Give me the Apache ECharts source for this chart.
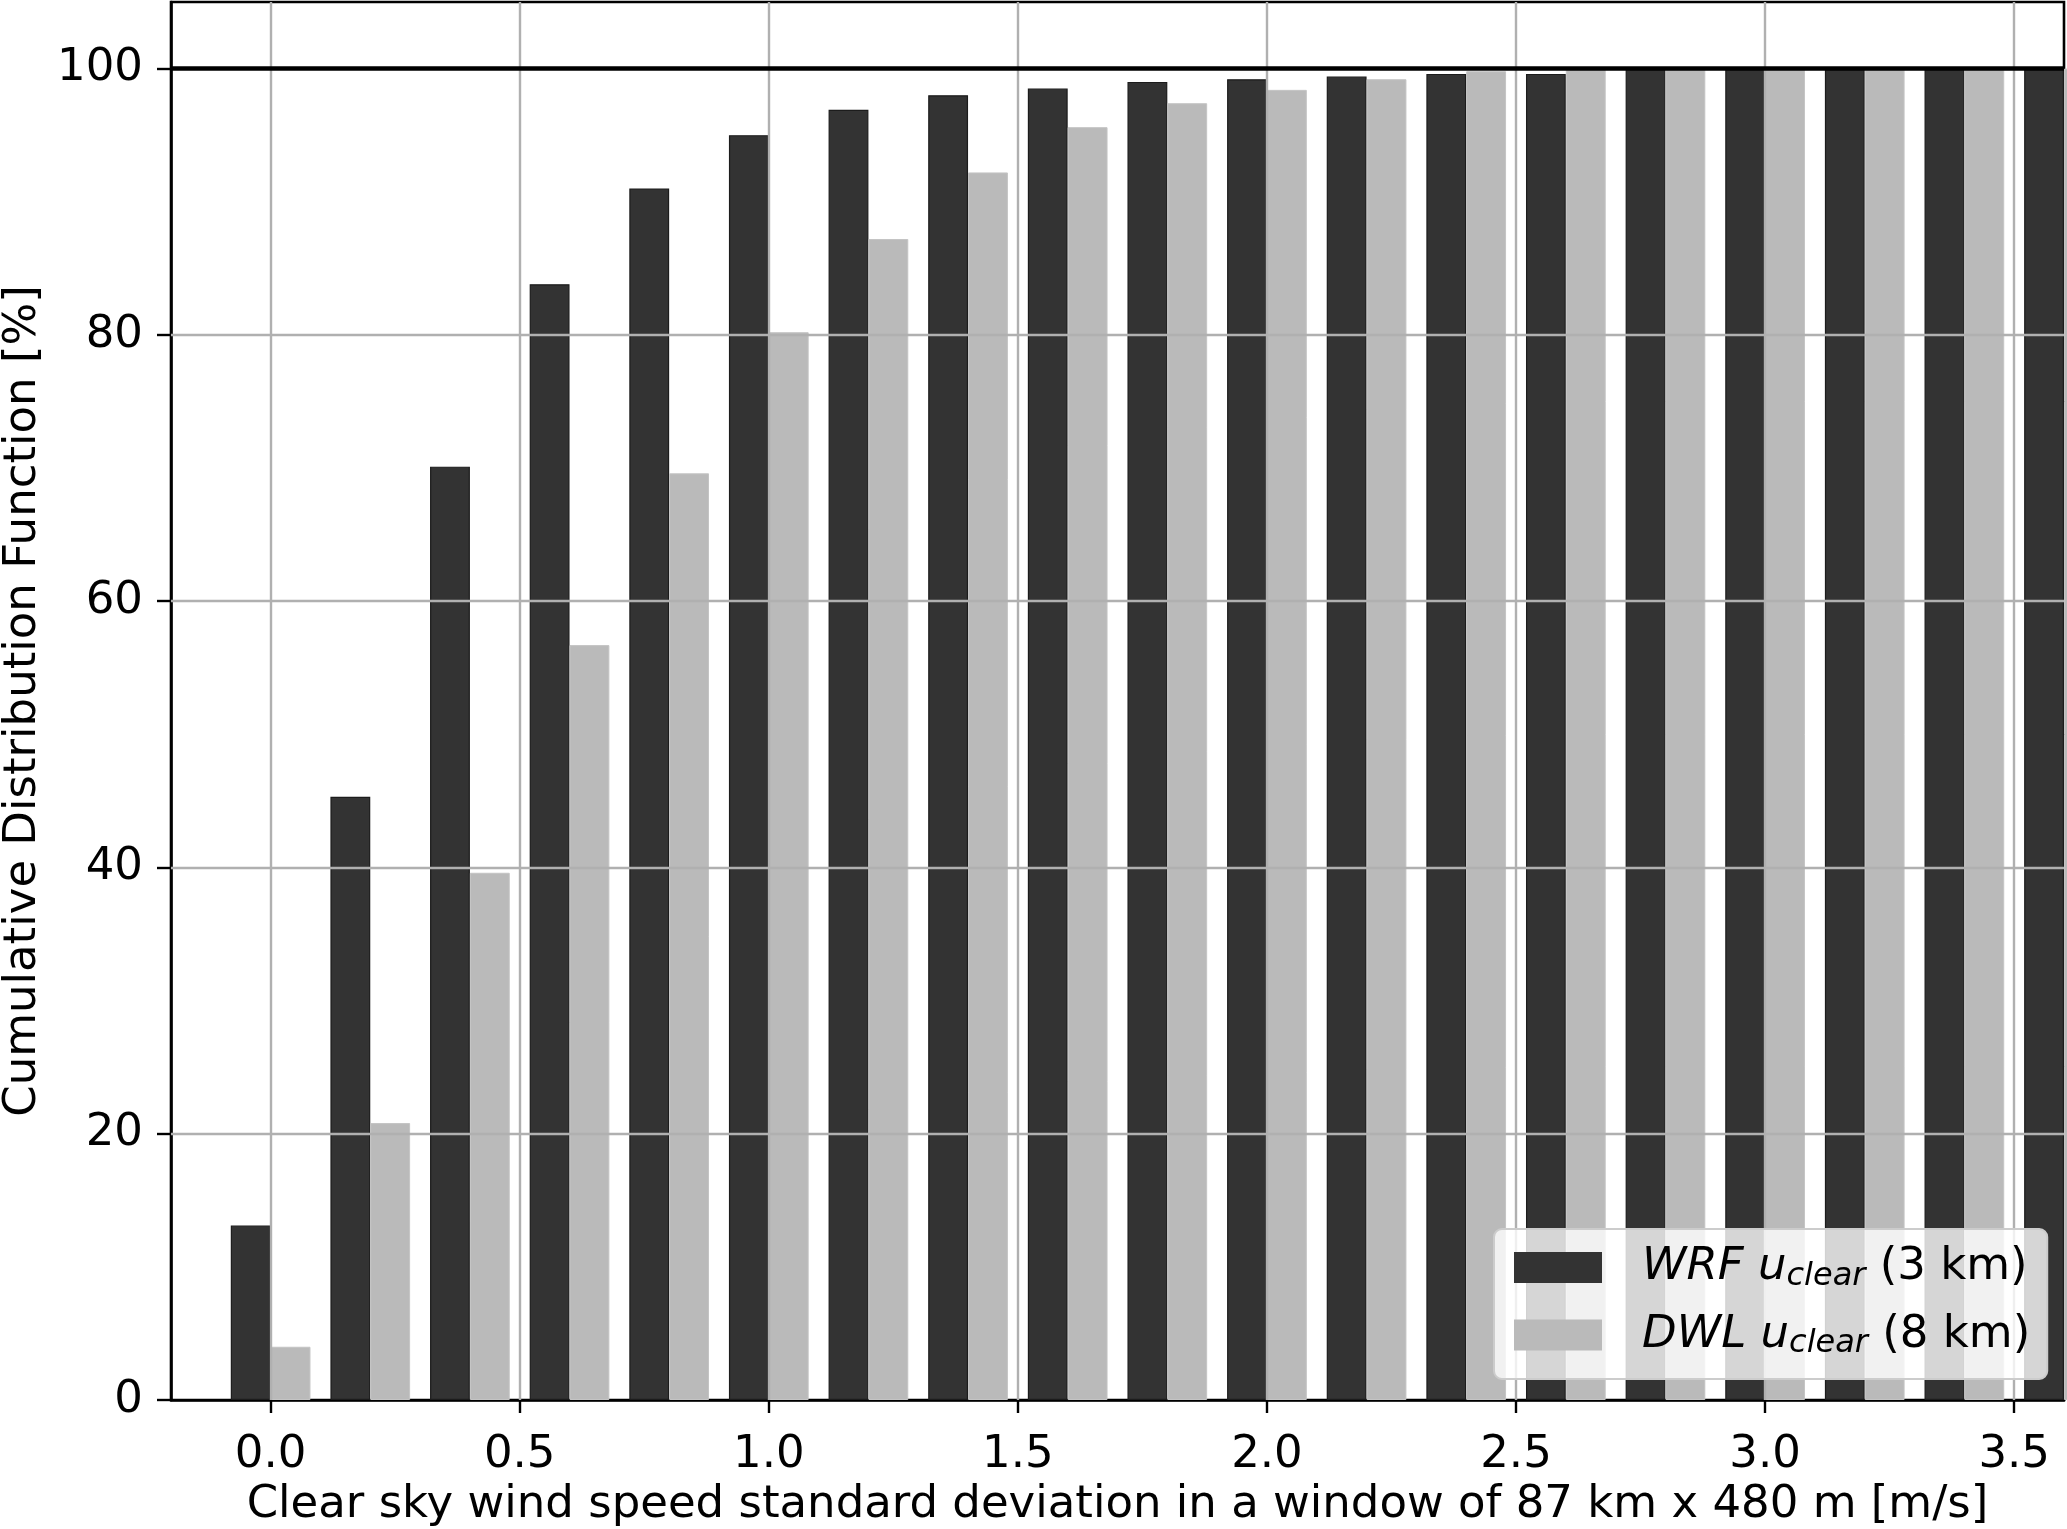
<!DOCTYPE html>
<html>
<head>
<meta charset="utf-8">
<script src="https://cdn.jsdelivr.net/npm/echarts@6/dist/echarts.min.js"></script>
<style>
html,body{margin:0;padding:0;background:#fff;}
#chart{width:2067px;height:1529px;}
</style>
</head>
<body>
<div id="chart"></div>
<script>
// ---- data ----
const xCenters = [0.0, 0.2, 0.4, 0.6, 0.8, 1.0, 1.2, 1.4, 1.6, 1.8, 2.0, 2.2, 2.4, 2.6, 2.8, 3.0, 3.2, 3.4, 3.6];
const wrfValues = [13.1, 45.3, 70.1, 83.8, 91.0, 95.0, 96.9, 98.0, 98.5, 99.0, 99.2, 99.4, 99.6, 99.6, 100, 100, 100, 100, 100];
const dwlValues = [4.0, 20.8, 39.6, 56.7, 69.6, 80.2, 87.2, 92.2, 95.6, 97.4, 98.4, 99.2, 99.8, 100, 100, 100, 100, 100, 100];
const xTicks = [0.0, 0.5, 1.0, 1.5, 2.0, 2.5, 3.0, 3.5];
const yTicks = [0, 20, 40, 60, 80, 100];
const refLine = 100;
const seriesNames = ['WRF', 'DWL'];
const seriesRes = ['3 km', '8 km'];
const xTitle = 'Clear sky wind speed standard deviation in a window of 87 km x 480 m [m/s]';
const yTitle = 'Cumulative Distribution Function [%]';

const FONT = 'DejaVu Sans';
const FS = 45;
const chart = echarts.init(document.getElementById('chart'), null, {renderer: 'canvas'});

const gridColor = '#b0b0b0';
const gridLines = [];
xTicks.forEach(v => gridLines.push({xAxis: v, lineStyle: {color: gridColor, width: 2.4, type: 'solid'}}));
yTicks.filter(v => v > 0 && v < refLine).forEach(v => gridLines.push({yAxis: v, lineStyle: {color: gridColor, width: 2.4, type: 'solid'}}));
gridLines.push({yAxis: refLine, lineStyle: {color: '#000', width: 4.6, type: 'solid'}});

const option = {
  animation: false,
  backgroundColor: '#fff',
  grid: {left: 171, right: 3, top: 2, bottom: 129, containLabel: false, outerBoundsMode: 'none',
    show: true, borderColor: '#000', borderWidth: 2.6, backgroundColor: 'transparent'},
  xAxis: {
    type: 'value', min: -0.2, max: 3.6,
    name: xTitle, nameLocation: 'middle', nameGap: 81,
    nameTextStyle: {fontFamily: FONT, fontSize: FS, color: '#000'},
    axisLine: {show: true, onZero: false, lineStyle: {color: '#000', width: 2.6}},
    axisTick: {show: true, customValues: xTicks, length: 13, lineStyle: {color: '#000', width: 2.4}},
    axisLabel: {show: true, customValues: xTicks, margin: 33, fontFamily: FONT, fontSize: FS, color: '#000',
      formatter: v => Number(v).toFixed(1)},
    splitLine: {show: false}
  },
  yAxis: {
    type: 'value', min: 0, max: 105,
    name: yTitle, nameLocation: 'middle', nameGap: 125,
    nameTextStyle: {fontFamily: FONT, fontSize: FS, color: '#000'},
    axisLine: {show: true, onZero: false, lineStyle: {color: '#000', width: 2.6}},
    axisTick: {show: true, customValues: yTicks, length: 14, lineStyle: {color: '#000', width: 2.4}},
    axisLabel: {show: true, customValues: yTicks, margin: 28, fontFamily: FONT, fontSize: FS, color: '#000',
      formatter: v => String(Math.round(v))},
    splitLine: {show: false}
  },
  legend: {
    orient: 'vertical', left: 1494, top: 1229, z: 10,
    backgroundColor: 'rgba(255,255,255,0.8)', borderColor: '#cccccc', borderWidth: 2, borderRadius: 8,
    padding: [16, 17, 19, 20], itemGap: 20, itemWidth: 88, itemHeight: 31, icon: 'rect',
    data: [
      {name: seriesNames[0], itemStyle: {color: '#333333', borderWidth: 0}},
      {name: seriesNames[1], itemStyle: {color: '#bababa', borderWidth: 0}}
    ],
    formatter: function (name) {
      const i = seriesNames.indexOf(name);
      return '{i|' + name + ' u}{s|clear}{n| (' + seriesRes[i] + ')}';
    },
    textStyle: {
      fontFamily: FONT, fontSize: FS, color: '#000',
      rich: {
        i: {fontFamily: FONT, fontSize: FS, fontStyle: 'italic', color: '#000', padding: [0, 0, 0, 35]},
        s: {fontFamily: FONT, fontSize: 32, fontStyle: 'italic', color: '#000', padding: [18, 0, 0, 0]},
        n: {fontFamily: FONT, fontSize: FS, color: '#000'}
      }
    }
  },
  series: [
    {
      name: seriesNames[0], type: 'bar', barWidth: '40%', barGap: '0%', clip: true,
      itemStyle: {color: '#333333', borderColor: '#1c1c1c', borderWidth: 1.2},
      data: xCenters.map((x, k) => [x, wrfValues[k]]),
      z: 2
    },
    {
      name: seriesNames[1], type: 'bar', barWidth: '40%', barGap: '0%', clip: true,
      itemStyle: {color: '#bababa', borderColor: '#c4c4c4', borderWidth: 1},
      data: xCenters.map((x, k) => [x, dwlValues[k]]),
      z: 2
    },
    {
      name: 'gridlines', type: 'line', data: [], showSymbol: false, silent: true, z: 3,
      markLine: {
        silent: true, symbol: 'none', z: 3, animation: false,
        label: {show: false},
        emphasis: {disabled: true},
        data: gridLines
      }
    }
  ]
};
chart.setOption(option);
</script>
</body>
</html>
